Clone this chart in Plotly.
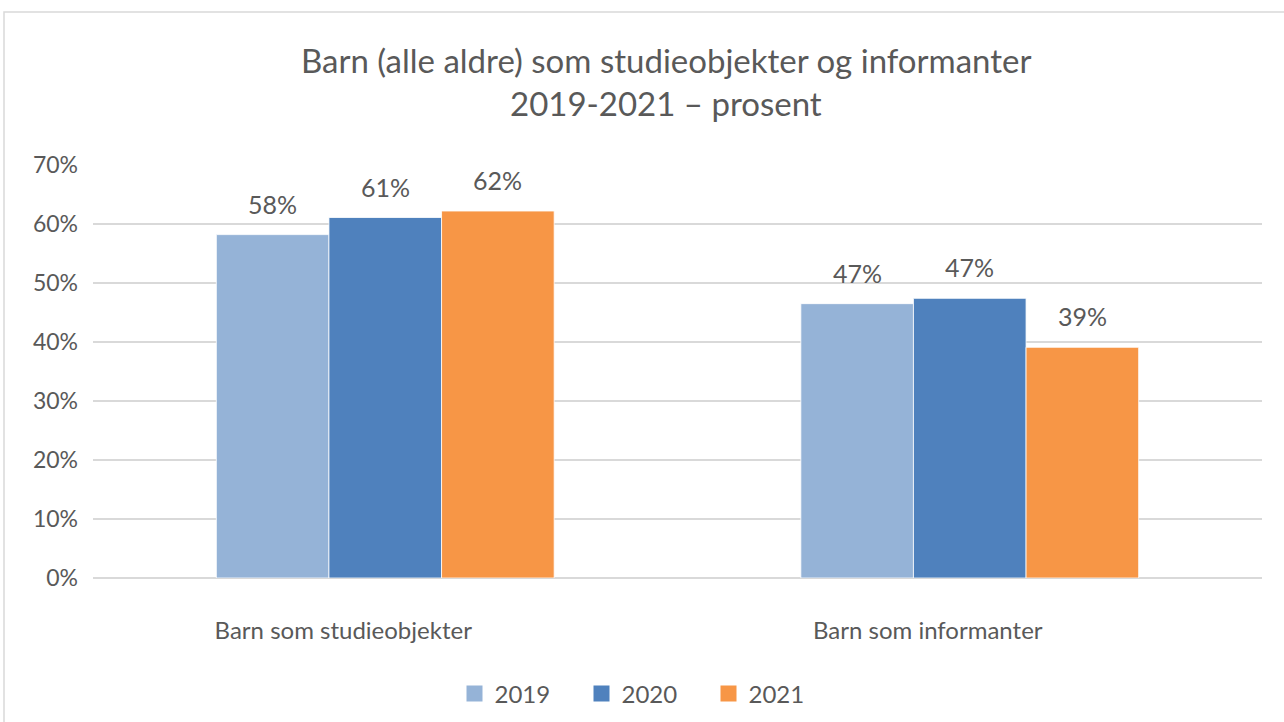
import plotly.graph_objects as go

categories = ["Barn som studieobjekter", "Barn som informanter"]
years = ["2019", "2020", "2021"]
values = {
    "2019": [58.2, 46.5],
    "2020": [61.1, 47.4],
    "2021": [62.2, 39.1],
}
labels = {
    "2019": ["58%", "47%"],
    "2020": ["61%", "47%"],
    "2021": ["62%", "39%"],
}
colors = {"2019": "#95B3D7", "2020": "#4F81BD", "2021": "#F79646"}

FONT = "Lato, 'Open Sans', sans-serif"
GREY = "#595959"

W, H = 1284, 722
L, R, T, B = 93, 22, 165, 144
pw, ph = W - L - R, H - T - B
BARGAP = 0.422


def px_x(x):
    return (x - L) / pw


def px_y(y):
    return (H - B - y) / ph


fig = go.Figure()
for y in years:
    fig.add_trace(go.Bar(
        name=y, x=categories, y=values[y],
        marker=dict(color=colors[y], line=dict(color="white", width=0.8)),
        showlegend=False,
    ))
    # legend entry with larger square symbol
    fig.add_trace(go.Scatter(
        name=y, x=[None], y=[None], mode="markers",
        marker=dict(symbol="square", size=20, color=colors[y]),
        showlegend=True,
    ))

# data labels via annotations positioned on the axes
cat_px = pw / len(categories)
bar_px = cat_px * (1 - BARGAP) / len(years)
annotations = []
for i, y in enumerate(years):
    for j, c in enumerate(categories):
        annotations.append(dict(
            x=c, y=values[y][j], xref="x", yref="y", text=labels[y][j],
            showarrow=False, xanchor="center", yanchor="middle",
            xshift=(i - 1) * bar_px, yshift=31,
            font=dict(size=25, color=GREY, family=FONT),
        ))

annotations += [
    dict(text="Barn (alle aldre) som studieobjekter og informanter", xref="paper", yref="paper",
         x=px_x(666), y=px_y(60), xanchor="center", yanchor="middle", showarrow=False,
         font=dict(size=33, color=GREY, family=FONT)),
    dict(text="2019-2021 – prosent", xref="paper", yref="paper",
         x=px_x(666), y=px_y(103), xanchor="center", yanchor="middle", showarrow=False,
         font=dict(size=33, color=GREY, family=FONT)),
]

fig.update_layout(
    width=W, height=H,
    margin=dict(l=L, r=R, t=T, b=B, autoexpand=False),
    paper_bgcolor="white", plot_bgcolor="white",
    barmode="group", bargap=BARGAP, bargroupgap=0,
    font=dict(family=FONT, color=GREY, size=20),
    showlegend=True,
    legend=dict(orientation="h", x=px_x(645), xanchor="center", y=px_y(694), yanchor="middle",
                font=dict(size=24, color=GREY), traceorder="normal", itemwidth=30,
                entrywidth=82, entrywidthmode="pixels"),
    xaxis=dict(showgrid=False, showline=False, ticks="", ticklabelstandoff=36,
               ticklabelshift=-42, tickfont=dict(size=24, color=GREY)),
    yaxis=dict(range=[0, 70], dtick=10, ticksuffix="%", showgrid=True,
               gridcolor="#D9D9D9", gridwidth=1.5, zeroline=True, zerolinecolor="#D9D9D9",
               zerolinewidth=1.5, showline=False, ticklabelstandoff=14,
               tickfont=dict(size=23, color=GREY)),
    annotations=annotations,
    shapes=[
        dict(type="rect", xref="paper", yref="paper", x0=px_x(4), x1=px_x(1300),
             y0=px_y(740), y1=px_y(12), line=dict(color="#D9D9D9", width=1.5),
             fillcolor="rgba(0,0,0,0)", layer="below"),
    ],
)

fig.write_html("out.html", config={"displayModeBar": False})

# remove default body margin so the figure sits at the window origin
with open("out.html", encoding="utf-8") as f:
    html = f.read()
html = html.replace("<head>", "<head><style>html,body{margin:0;padding:0;overflow:hidden;}</style>", 1)
with open("out.html", "w", encoding="utf-8") as f:
    f.write(html)
